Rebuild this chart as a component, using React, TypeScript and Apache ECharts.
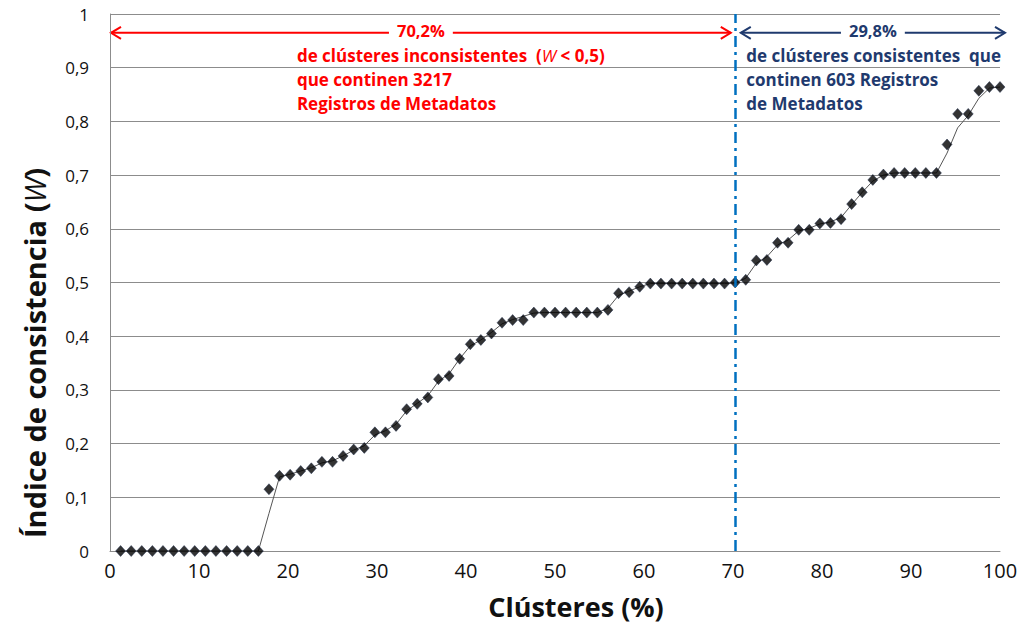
import React, { useEffect, useRef } from "react";
import * as echarts from "echarts";

// Cluster position (% of clusters, 84 clusters ranked by W)
const clusterPct = [
  1.19, 2.38, 3.57, 4.76, 5.95, 7.14, 8.33, 9.52, 10.71, 11.9, 13.1, 14.29, 15.48, 16.67,
  17.86, 19.05, 20.24, 21.43, 22.62, 23.81, 25.0, 26.19, 27.38, 28.57, 29.76, 30.95, 32.14,
  33.33, 34.52, 35.71, 36.9, 38.1, 39.29, 40.48, 41.67, 42.86, 44.05, 45.24, 46.43, 47.62,
  48.81, 50.0, 51.19, 52.38, 53.57, 54.76, 55.95, 57.14, 58.33, 59.52, 60.71, 61.9, 63.1,
  64.29, 65.48, 66.67, 67.86, 69.05, 70.24, 71.43, 72.62, 73.81, 75.0, 76.19, 77.38, 78.57,
  79.76, 80.95, 82.14, 83.33, 84.52, 85.71, 86.9, 88.1, 89.29, 90.48, 91.67, 92.86, 94.05,
  95.24, 96.43, 97.62, 98.81, 100,
];

// Consistency index W per cluster (markers)
const wValues = [
  0, 0, 0, 0, 0, 0, 0, 0, 0, 0, 0, 0, 0, 0,
  0.115, 0.14, 0.142, 0.149, 0.154, 0.166, 0.166, 0.177, 0.189, 0.192, 0.221, 0.221, 0.233,
  0.264, 0.274, 0.286, 0.32, 0.326, 0.358, 0.385, 0.393, 0.405, 0.425, 0.43, 0.43,
  0.444, 0.444, 0.444, 0.444, 0.444, 0.444, 0.444, 0.449, 0.48, 0.482, 0.492,
  0.498, 0.498, 0.498, 0.498, 0.498, 0.498, 0.498, 0.498, 0.5,
  0.505, 0.541, 0.542, 0.574, 0.574, 0.598, 0.598, 0.61, 0.611, 0.618, 0.646, 0.668, 0.691,
  0.701, 0.704, 0.704, 0.704, 0.704, 0.704, 0.757, 0.814, 0.814, 0.857, 0.864, 0.864,
];

// Trend line drawn through the markers
const trendValues = [
  0, 0, 0, 0, 0, 0, 0, 0, 0, 0, 0, 0, 0, 0,
  0.07, 0.138, 0.143, 0.149, 0.155, 0.164, 0.168, 0.177, 0.188, 0.196, 0.216, 0.224, 0.236,
  0.261, 0.275, 0.289, 0.316, 0.33, 0.358, 0.382, 0.393, 0.407, 0.423, 0.431, 0.437,
  0.443, 0.444, 0.444, 0.444, 0.444, 0.444, 0.444, 0.452, 0.476, 0.484, 0.492,
  0.498, 0.498, 0.498, 0.498, 0.498, 0.498, 0.498, 0.498, 0.499,
  0.508, 0.536, 0.548, 0.57, 0.579, 0.596, 0.601, 0.609, 0.613, 0.621, 0.645, 0.668, 0.689,
  0.7, 0.704, 0.704, 0.704, 0.704, 0.704, 0.741, 0.788, 0.811, 0.843, 0.862, 0.864,
];

const splitPct = 70.2;
const inconsistentPctLabel = "70,2%";
const consistentPctLabel = "29,8%";

const FONT = "'Open Sans', 'Noto Sans', sans-serif";
const RED = "#FF0000";
const NAVY = "#1F3A6E";

export default function App() {
  const ref = useRef<HTMLDivElement>(null);

  useEffect(() => {
    document.body.style.margin = "0";
    const chart = echarts.init(ref.current!, undefined, { renderer: "svg" });
    const fmt = (v: number) =>
      v === 0 ? "0" : v === 1 ? "1" : v.toFixed(1).replace(".", ",");

    chart.setOption({
      animation: false,
      backgroundColor: "#ffffff",
      grid: { left: 110, right: 21, top: 14, bottom: 77, containLabel: false },
      xAxis: {
        type: "value",
        min: 0,
        max: 100,
        interval: 10,
        axisLine: { show: true, lineStyle: { color: "#8c8c8c", width: 1 } },
        axisTick: { show: false },
        splitLine: { show: false },
        axisLabel: { fontFamily: FONT, fontSize: 20, color: "#111", margin: 9 },
      },
      yAxis: {
        type: "value",
        min: 0,
        max: 1,
        interval: 0.1,
        axisLine: { show: true, lineStyle: { color: "#8c8c8c", width: 1 } },
        axisTick: { show: false },
        splitLine: { show: true, lineStyle: { color: "#8c8c8c", width: 1 } },
        axisLabel: {
          fontFamily: FONT,
          fontSize: 17,
          color: "#111",
          margin: 21,
          formatter: fmt,
        },
      },
      series: [
        {
          type: "line",
          data: clusterPct.map((x, i) => [x, trendValues[i]]),
          showSymbol: false,
          symbol: "none",
          lineStyle: { color: "#555", width: 1 },
          z: 2,
          silent: true,
        },
        {
          type: "scatter",
          data: clusterPct.map((x, i) => [x, wValues[i]]),
          symbol: "diamond",
          symbolSize: [10, 11],
          itemStyle: { color: "#000", borderColor: "#1b2a4a", borderWidth: 0.6 },
          z: 3,
          markLine: {
            silent: true,
            symbol: "none",
            label: { show: false },
            lineStyle: { color: "#0070C0", width: 2.5, type: [11, 5, 3, 5] },
            data: [{ xAxis: splitPct }],
          },
        },
      ],
    });

    const p = (x: number, y: number) =>
      chart.convertToPixel({ gridIndex: 0 }, [x, y]) as number[];
    const [x0, ay] = p(0, 0.965);
    const [xs] = p(splitPct, 0.965);
    const [x100] = p(100, 0.965);
    const redStart = x0 + 1;
    const redEnd = xs - 4;
    const blueStart = xs + 6;
    const blueEnd = x100 + 5;
    const head = (tip: number, dir: number, color: string) => ({
      type: "polyline",
      shape: { points: [[tip + dir * 10, ay - 6], [tip, ay], [tip + dir * 10, ay + 6]] },
      style: { stroke: color, lineWidth: 2, fill: "none" },
    });
    const [tx1] = p(21, 0);
    const [tx2] = p(71.5, 0);
    const lineYs = [55, 79, 103];
    const FS = 17;
    const textStyle = (color: string) => ({
      fontFamily: FONT,
      fontSize: FS,
      fontWeight: "bold",
      fill: color,
      verticalAlign: "middle",
      lineHeight: 18,
    });
    const rich = (color: string) => ({
      w: { fontFamily: FONT, fontSize: FS, fontStyle: "italic", fontWeight: "normal", fill: color, color, lineHeight: 18 },
    });
    const pctStyle = (text: string, color: string) => ({
      text,
      fontFamily: FONT,
      fontSize: 16.5,
      fontWeight: "bold",
      fill: color,
      align: "center",
      verticalAlign: "middle",
      lineHeight: 16,
      backgroundColor: "#fff",
      padding: [0, 8],
    });

    chart.setOption({
      graphic: [
        { type: "line", shape: { x1: redStart, y1: ay, x2: redEnd, y2: ay }, style: { stroke: RED, lineWidth: 2 } },
        head(redStart, 1, RED),
        head(redEnd, -1, RED),
        { type: "text", x: (redStart + redEnd) / 2, y: ay - 2, style: pctStyle(inconsistentPctLabel, RED) },
        { type: "line", shape: { x1: blueStart, y1: ay, x2: blueEnd, y2: ay }, style: { stroke: NAVY, lineWidth: 2 } },
        head(blueStart, 1, NAVY),
        head(blueEnd, -1, NAVY),
        { type: "text", x: (blueStart + blueEnd) / 2, y: ay - 2, style: pctStyle(consistentPctLabel, NAVY) },
        {
          type: "text",
          x: tx1,
          y: lineYs[0],
          style: { ...textStyle(RED), text: "de clústeres inconsistentes  ({w|W} < 0,5)", rich: rich(RED) },
        },
        { type: "text", x: tx1, y: lineYs[1], style: { ...textStyle(RED), text: "que continen 3217" } },
        { type: "text", x: tx1, y: lineYs[2], style: { ...textStyle(RED), text: "Registros de Metadatos" } },
        { type: "text", x: tx2, y: lineYs[0], style: { ...textStyle(NAVY), text: "de clústeres consistentes  que" } },
        { type: "text", x: tx2, y: lineYs[1], style: { ...textStyle(NAVY), text: "continen 603 Registros" } },
        { type: "text", x: tx2, y: lineYs[2], style: { ...textStyle(NAVY), text: "de Metadatos" } },
        {
          type: "text",
          x: 34,
          y: 353,
          rotation: Math.PI / 2,
          style: {
            text: "Índice de consistencia ({w|W})",
            fontFamily: FONT,
            fontSize: 29,
            fontWeight: "bold",
            fill: "#111",
            align: "center",
            verticalAlign: "middle",
            rich: { w: { fontFamily: FONT, fontSize: 29, fontStyle: "italic", fontWeight: "normal", fill: "#111", color: "#111" } },
          },
        },
        {
          type: "text",
          x: 576,
          y: 606,
          style: {
            text: "Clústeres (%)",
            fontFamily: FONT,
            fontSize: 27,
            fontWeight: "bold",
            fill: "#111",
            align: "center",
            verticalAlign: "middle",
          },
        },
      ],
    });

    return () => chart.dispose();
  }, []);

  return <div ref={ref} style={{ width: 1021, height: 628 }} />;
}
